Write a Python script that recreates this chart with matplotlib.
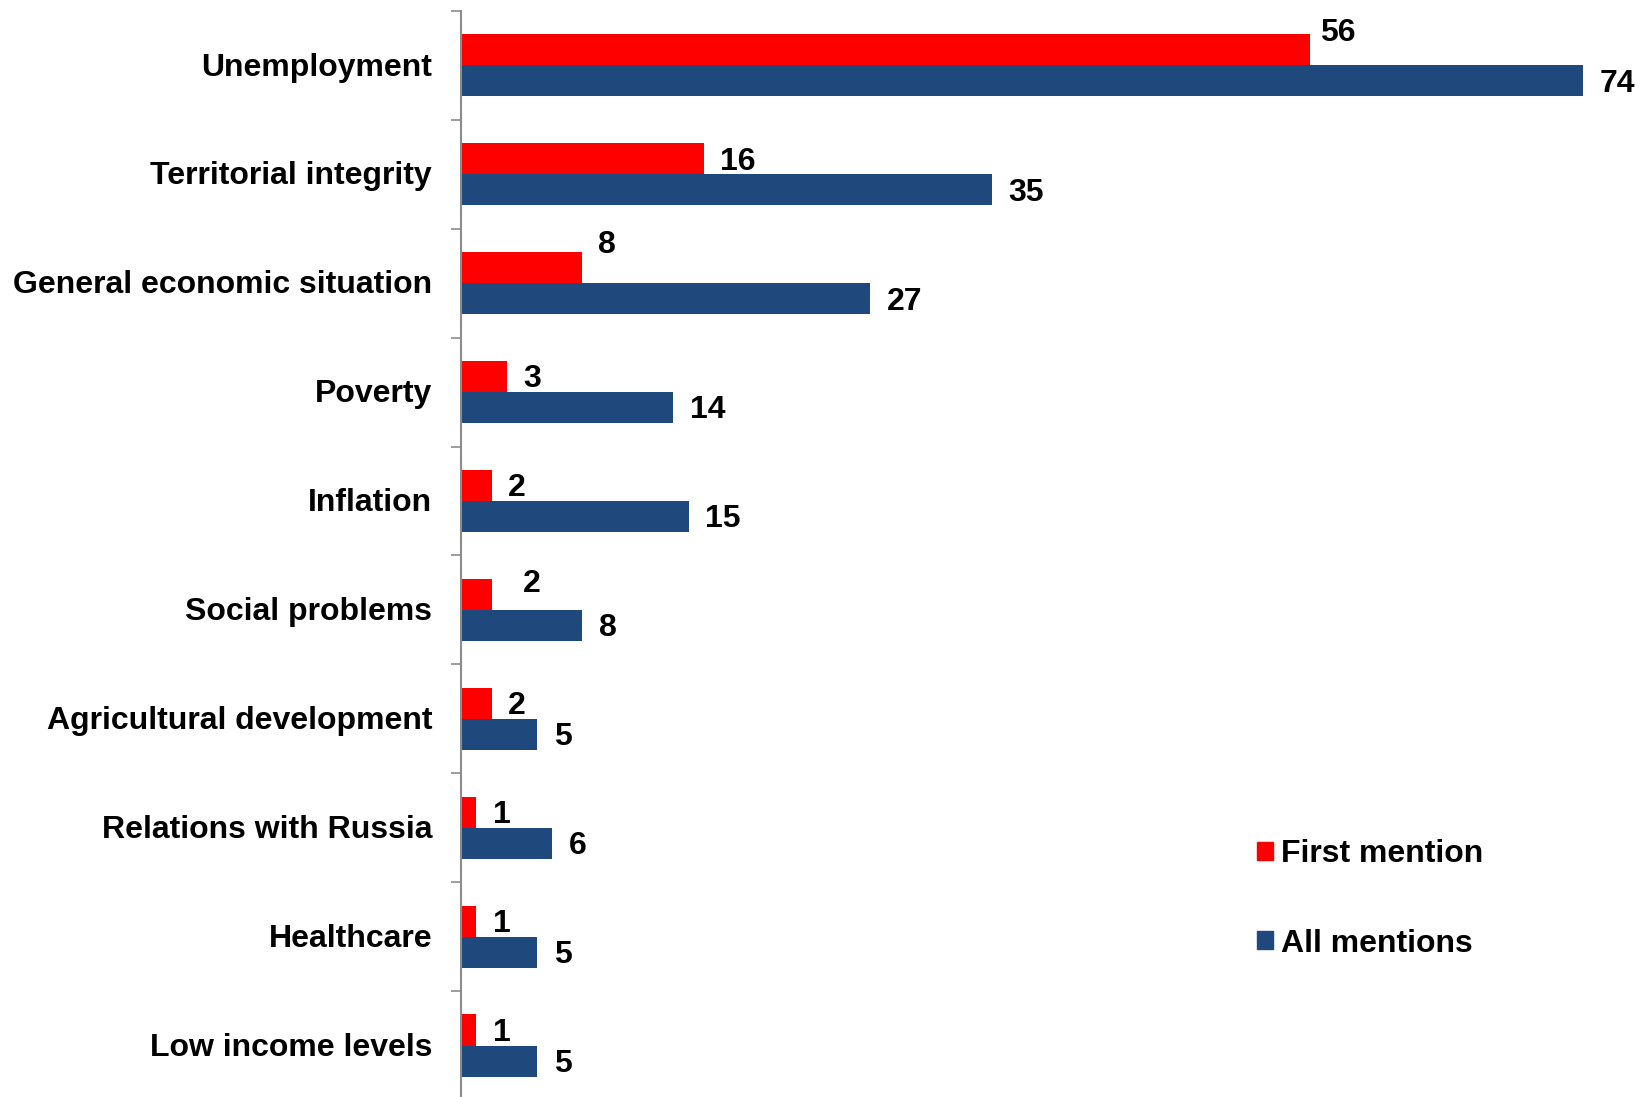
import numpy as np
import matplotlib
matplotlib.use('Agg')
import matplotlib.pyplot as plt
from matplotlib.patches import Patch
from matplotlib.transforms import ScaledTranslation

plt.rcParams['font.family'] = ['Liberation Sans', 'DejaVu Sans']
plt.rcParams['font.weight'] = 'bold'

categories = ['Unemployment', 'Territorial integrity', 'General economic situation',
              'Poverty', 'Inflation', 'Social problems', 'Agricultural development',
              'Relations with Russia', 'Healthcare', 'Low income levels']
first_mention = [56, 16, 8, 3, 2, 2, 2, 1, 1, 1]
all_mentions = [74, 35, 27, 14, 15, 8, 5, 6, 5, 5]

RED = '#FF0000'
BLUE = '#1F497D'
FS = 23

fig = plt.figure(figsize=(16.49, 10.97), dpi=100)
ax = fig.add_axes([0.2797, -0.0027, 0.7168, 0.9927])

y = np.arange(len(categories))
h = 0.285
ax.barh(y - h / 2, first_mention, height=h, color=RED, label='First mention')
ax.barh(y + h / 2, all_mentions, height=h, color=BLUE, label='All mentions')

ax.set_xlim(0, 78)
ax.set_ylim(len(categories) - 0.5, -0.5)

# value labels; a few red ones are nudged off the bar end
nudge = {0: (7.6, 12.4), 2: (11.4, 16), 5: (22.7, 7.8)}
for i in range(len(categories)):
    dx, dy = nudge.get(i, (12, -2))
    ax.annotate(str(first_mention[i]), (first_mention[i], y[i] - h / 2),
                xytext=(dx, dy), textcoords='offset points',
                ha='left', va='center', fontsize=FS, fontweight='bold')
    ax.annotate(str(all_mentions[i]), (all_mentions[i], y[i] + h / 2),
                xytext=(12, -2), textcoords='offset points',
                ha='left', va='center', fontsize=FS, fontweight='bold')

ax.set_yticks(y)
ax.set_yticklabels(categories, fontsize=FS, fontweight='bold', va='center')
ax.tick_params(axis='y', which='major', length=0, pad=21)
shift = ScaledTranslation(0, -0.021, fig.dpi_scale_trans)
for lbl in ax.get_yticklabels():
    lbl.set_transform(lbl.get_transform() + shift)
ax.set_yticks(np.arange(-0.5, len(categories), 1), minor=True)
ax.tick_params(axis='y', which='minor', length=7, width=1.2, color='#8C8C8C', direction='out')
ax.set_xticks([])

for s in ['top', 'right', 'bottom']:
    ax.spines[s].set_visible(False)
ax.spines['left'].set_color('#8C8C8C')
ax.spines['left'].set_linewidth(1.5)

handles = [Patch(color=RED, label='First mention'), Patch(color=BLUE, label='All mentions')]
fig.legend(handles=handles, loc='upper left', bbox_to_anchor=(0.745, 0.261),
           frameon=False, prop={'size': FS, 'weight': 'bold'},
           handlelength=0.5, handleheight=0.5, handletextpad=0.25, labelspacing=1.85)

fig.savefig('out.png', dpi=100)
